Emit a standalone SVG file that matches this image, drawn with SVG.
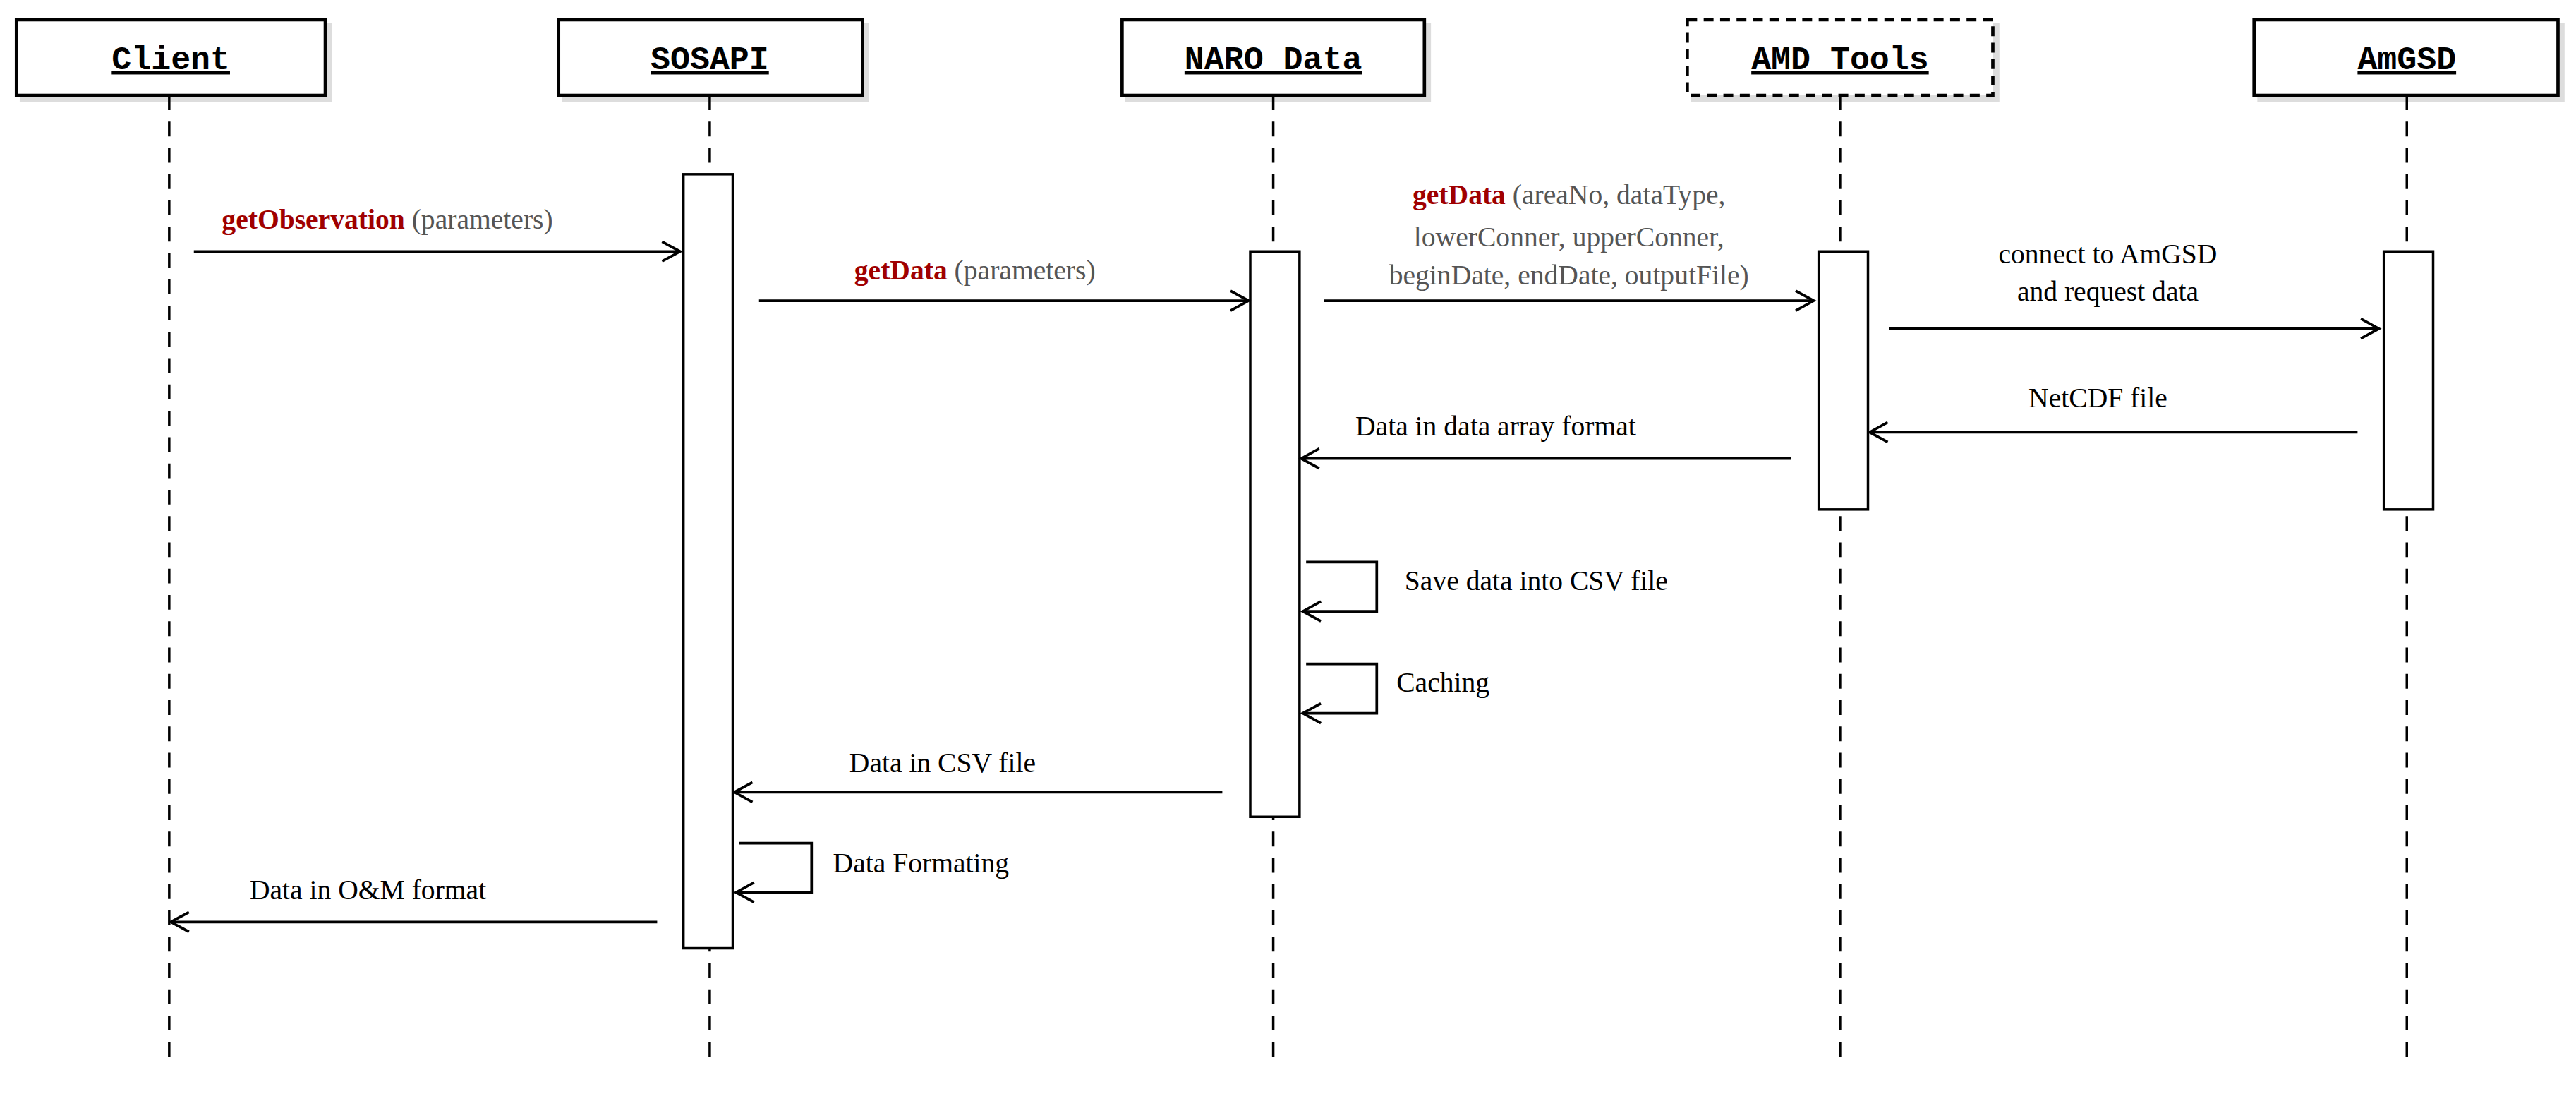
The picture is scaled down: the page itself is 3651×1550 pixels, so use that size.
<svg xmlns="http://www.w3.org/2000/svg" width="3651" height="1550" viewBox="0 0 3651 1550">
<style>
.box{fill:#fff;stroke:#000;stroke-width:2}
.dbox{fill:#fff;stroke:#000;stroke-width:2;stroke-dasharray:6 4}
.sh{fill:#ddd}
.hd{font-family:"Liberation Mono",monospace;font-size:20px;font-weight:bold;text-anchor:middle;text-decoration:underline}
.life{stroke:#000;stroke-width:1.5;stroke-dasharray:9 7;fill:none}
.act{fill:#fff;stroke:#000;stroke-width:1.5}
.msg{stroke:#000;stroke-width:1.6;fill:none}
.t{font-family:"Liberation Serif",serif;font-size:17px;fill:#000}
.g{fill:#555}
.r{fill:#a00000;font-weight:bold}
</style>
<defs>
<marker id="ah" markerWidth="14" markerHeight="14" refX="12" refY="7" orient="auto" markerUnits="userSpaceOnUse"><path d="M1,1 L12,7 L1,13" fill="none" stroke="#000" stroke-width="1.6"/></marker>
</defs>
<rect width="3651" height="1550" fill="#fff"/>
<g transform="scale(2.3285)">
<g id="client"><rect class="sh" x="12" y="14" width="190" height="48"/><rect class="box" x="10" y="12" width="188" height="46"/><text class="hd" x="104" y="42">Client</text><line class="life" x1="103" y1="58" x2="103" y2="650"/></g>
<g id="sosapi"><rect class="sh" x="342" y="14" width="187" height="48"/><rect class="box" x="340" y="12" width="185" height="46"/><text class="hd" x="432" y="42">SOSAPI</text><line class="life" x1="432" y1="58" x2="432" y2="650"/><rect class="act" x="416" y="106" width="30" height="471"/></g>
<g id="naro"><rect class="sh" x="685" y="14" width="186" height="48"/><rect class="box" x="683" y="12" width="184" height="46"/><text class="hd" x="775" y="42">NARO Data</text><line class="life" x1="775" y1="58" x2="775" y2="650"/><rect class="act" x="761" y="153" width="30" height="344"/></g>
<g id="amd"><rect class="sh" x="1029" y="14" width="188" height="48"/><rect class="dbox" x="1027" y="12" width="186" height="46"/><text class="hd" x="1120" y="42">AMD_Tools</text><line class="life" x1="1120" y1="58" x2="1120" y2="650"/><rect class="act" x="1107" y="153" width="30" height="157"/></g>
<g id="amgsd"><rect class="sh" x="1374" y="14" width="187" height="48"/><rect class="box" x="1372" y="12" width="185" height="46"/><text class="hd" x="1465" y="42">AmGSD</text><line class="life" x1="1465" y1="58" x2="1465" y2="650"/><rect class="act" x="1451" y="153" width="30" height="157"/></g>
<g id="connectors">
<line class="msg" x1="118" y1="153" x2="414" y2="153" marker-end="url(#ah)"/>
<text class="t" x="135" y="139"><tspan class="r">getObservation</tspan> <tspan class="g">(parameters)</tspan></text>
<line class="msg" x1="462" y1="183" x2="760" y2="183" marker-end="url(#ah)"/>
<text class="t" x="520" y="170"><tspan class="r">getData</tspan> <tspan class="g">(parameters)</tspan></text>
<line class="msg" x1="806" y1="183" x2="1104" y2="183" marker-end="url(#ah)"/>
<text class="t" x="955" y="124" text-anchor="middle"><tspan class="r">getData</tspan> <tspan class="g">(areaNo, dataType,</tspan></text>
<text class="t g" x="955" y="150" text-anchor="middle">lowerConner, upperConner,</text>
<text class="t g" x="955" y="173" text-anchor="middle">beginDate, endDate, outputFile)</text>
<line class="msg" x1="1150" y1="200" x2="1448" y2="200" marker-end="url(#ah)"/>
<text class="t" x="1283" y="160" text-anchor="middle">connect to AmGSD</text>
<text class="t" x="1283" y="183" text-anchor="middle">and request data</text>
<line class="msg" x1="1435" y1="263" x2="1138" y2="263" marker-end="url(#ah)"/>
<text class="t" x="1277" y="248" text-anchor="middle">NetCDF file</text>
<line class="msg" x1="1090" y1="279" x2="792" y2="279" marker-end="url(#ah)"/>
<text class="t" x="825" y="265">Data in data array format</text>
<polyline class="msg" points="795,342 838,342 838,372 793,372" marker-end="url(#ah)"/>
<text class="t" x="855" y="359">Save data into CSV file</text>
<polyline class="msg" points="795,404 838,404 838,434 793,434" marker-end="url(#ah)"/>
<text class="t" x="850" y="421">Caching</text>
<line class="msg" x1="744" y1="482" x2="447" y2="482" marker-end="url(#ah)"/>
<text class="t" x="517" y="470">Data in CSV file</text>
<polyline class="msg" points="450,513 494,513 494,543 448,543" marker-end="url(#ah)"/>
<text class="t" x="507" y="531">Data Formating</text>
<line class="msg" x1="400" y1="561" x2="104" y2="561" marker-end="url(#ah)"/>
<text class="t" x="152" y="547">Data in O&amp;M format</text>
</g>
</g>
</svg>
